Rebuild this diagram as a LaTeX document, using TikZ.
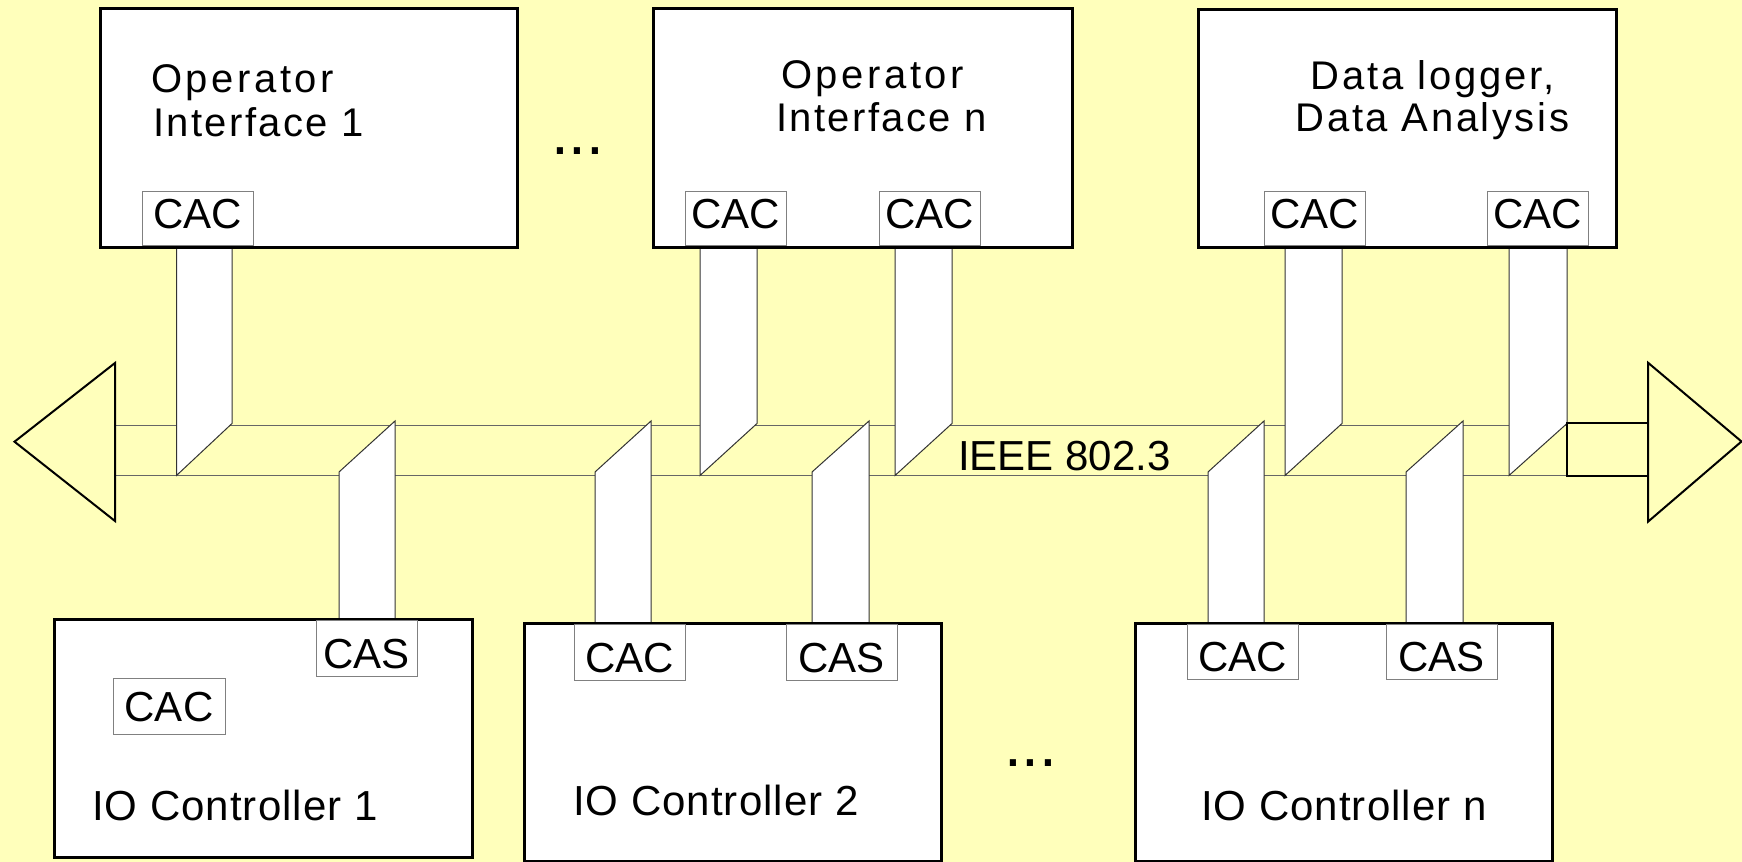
\documentclass[tikz,border=0pt]{standalone}
\usepackage{fontspec}
\setmainfont{Liberation Sans}
\definecolor{bg}{RGB}{255,255,187}
\newcommand{\ttlfont}[1]{\fontsize{20}{24}\selectfont\addfontfeature{LetterSpace=#1}}
\begin{document}
\begin{tikzpicture}[x=0.5pt,y=-0.5pt,
  bigbox/.style={draw=black, line width=1.5pt, fill=white, inner sep=0pt, outer sep=0pt, anchor=north west},
  portbox/.style={draw=black!50, line width=0.5pt, fill=white, inner sep=0pt, outer sep=0pt, anchor=north west,
     font=\fontsize{21}{21}\selectfont},
  porttop/.style={portbox, text height=15pt, text depth=4.5pt},
  portbot/.style={portbox, text height=20pt, text depth=0pt},
  portmid/.style={portbox, text height=15pt, text depth=0pt},
  stub/.style={draw=black!80, line width=0.5pt, fill=white},
  bus/.style={draw=black!60, line width=0.6pt},
  endline/.style={draw=black, line width=1pt},
  lbl/.style={inner sep=0pt, outer sep=0pt, anchor=base west},
  ioc/.style={font=\fontsize{21}{24}\selectfont\addfontfeature{LetterSpace=2.5}},
]
\fill[bg] (0,0) rectangle (1742,862);
\useasboundingbox (0,0) rectangle (1742,862);

% bus lines
\coordinate (busLt) at (115,425.5);
\coordinate (busRt) at (1567,425.5);
\coordinate (busLb) at (115,475.5);
\coordinate (busRb) at (1567,475.5);
\draw[bus] (busLt) -- (busRt);
\draw[bus] (busLb) -- (busRb);

% stubs from top stations
\filldraw[stub] (176.5,247) -- (232,247) -- (232,423.5) -- (176.5,475.5) -- cycle;
\filldraw[stub] (700,247) -- (757,247) -- (757,423.5) -- (700,475.5) -- cycle;
\filldraw[stub] (895,247) -- (952,247) -- (952,423.5) -- (895,475.5) -- cycle;
\filldraw[stub] (1285,247) -- (1342,247) -- (1342,423.5) -- (1285,475.5) -- cycle;
\filldraw[stub] (1509,247) -- (1567,247) -- (1567,423.5) -- (1509,475.5) -- cycle;
% stubs from bottom stations
\filldraw[stub] (339,620) -- (339,472) -- (395,421) -- (395,620) -- cycle;
\filldraw[stub] (595,624) -- (595,472) -- (651,421) -- (651,624) -- cycle;
\filldraw[stub] (812,624) -- (812,472) -- (869,421) -- (869,624) -- cycle;
\filldraw[stub] (1208,624) -- (1208,472) -- (1264,421) -- (1264,624) -- cycle;
\filldraw[stub] (1406,624) -- (1406,472) -- (1463,421) -- (1463,624) -- cycle;

% station boxes
\node[bigbox, minimum width=208.5pt, minimum height=119.5pt] (oi1) at (100,8) {};
\node[bigbox, minimum width=209.5pt, minimum height=119.5pt] (oin) at (653,8) {};
\node[bigbox, minimum width=209pt, minimum height=119pt] (dl) at (1198,9) {};
\node[bigbox, minimum width=209pt, minimum height=119pt] (ioc1) at (54,619) {};
\node[bigbox, minimum width=208.5pt, minimum height=119pt] (ioc2) at (524,623) {};
\node[bigbox, minimum width=208.5pt, minimum height=119pt] (iocn) at (1135,623) {};

% ports
\node[porttop, minimum width=55.5pt, minimum height=27.25pt] (p1) at (142,191) {CAC};
\node[porttop, minimum width=50.5pt, minimum height=27.25pt] (p2) at (685,191) {CAC};
\node[porttop, minimum width=50.5pt, minimum height=27.25pt] (p3) at (879,191) {CAC};
\node[porttop, minimum width=50.5pt, minimum height=27.25pt] (p4) at (1264,191) {CAC};
\node[porttop, minimum width=50.5pt, minimum height=27.25pt] (p5) at (1487,191) {CAC};
\node[portbot, minimum width=50.5pt, minimum height=27.75pt] (q1) at (316,620.5) {CAS};
\node[portmid, minimum width=56pt, minimum height=28pt] (q0) at (113,678) {CAC};
\node[portbot, minimum width=55.5pt, minimum height=27.75pt] (q2) at (574,624.5) {CAC};
\node[portbot, minimum width=55.5pt, minimum height=27.75pt] (q3) at (786,624.5) {CAS};
\node[portbot, minimum width=55.5pt, minimum height=27.25pt] (q4) at (1187,624.5) {CAC};
\node[portbot, minimum width=55.5pt, minimum height=27.25pt] (q5) at (1386,624.5) {CAS};

% bus ends
\draw[endline] (1567,423) rectangle (1648,475.7);
\draw[endline] (115,363) -- (14.5,441.7) -- (115,521) -- cycle;
\draw[endline] (1648,362.7) -- (1741.5,441.5) -- (1648,521.7) -- cycle;

% titles
\node[lbl, font=\ttlfont{9}] (t1a) at (151,92.7) {Operator};
\node[lbl, font=\ttlfont{6}] (t1b) at (153,136) {Interface 1};
\node[lbl, font=\ttlfont{9}] (t2a) at (781,88.3) {Operator};
\node[lbl, font=\ttlfont{6}] (t2b) at (776,131) {Interface n};
\node[lbl, anchor=base, font=\ttlfont{7}] (t3a) at (1432.5,90) {Data logger,};
\node[lbl, anchor=base, font=\ttlfont{6.5}] (t3b) at (1432.5,131.7) {Data Analysis};
\node[lbl, ioc] (t4) at (92,820) {IO Controller 1};
\node[lbl, ioc] (t5) at (573,815) {IO Controller 2};
\node[lbl, ioc] (t6) at (1201,820) {IO Controller n};
\node[lbl, font=\fontsize{21}{24}\selectfont] (bus) at (958,470) {IEEE 802.3};
\node[lbl, font=\fontsize{32}{36}\selectfont] (dots1) at (551,154) {...};
\node[lbl, font=\fontsize{32}{36}\selectfont] (dots2) at (1004,766) {...};
\end{tikzpicture}
\end{document}
